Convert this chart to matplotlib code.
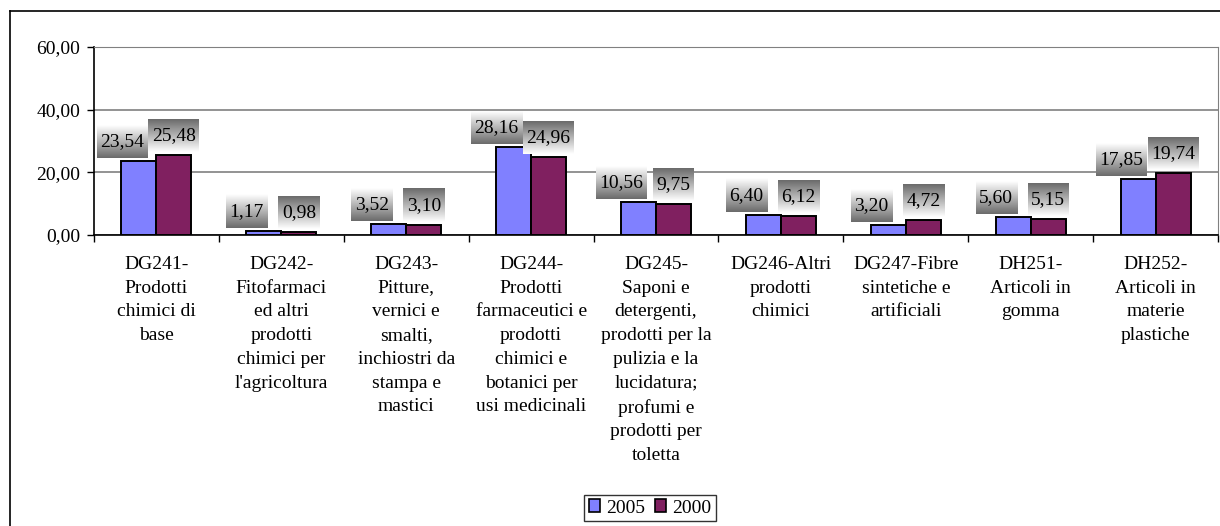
import numpy as np
import matplotlib
matplotlib.use('Agg')
import matplotlib.pyplot as plt
from matplotlib.lines import Line2D
from matplotlib.patches import Patch

plt.rcParams['font.family'] = ['Liberation Serif', 'DejaVu Serif']

categories = [
    "DG241-\nProdotti\nchimici di\nbase",
    "DG242-\nFitofarmaci\ned altri\nprodotti\nchimici per\nl'agricoltura",
    "DG243-\nPitture,\nvernici e\nsmalti,\ninchiostri da\nstampa e\nmastici",
    "DG244-\nProdotti\nfarmaceutici e\nprodotti\nchimici e\nbotanici per\nusi medicinali",
    "DG245-\nSaponi e\ndetergenti,\nprodotti per la\npulizia e la\nlucidatura;\nprofumi e\nprodotti per\ntoletta",
    "DG246-Altri\nprodotti\nchimici",
    "DG247-Fibre\nsintetiche e\nartificiali",
    "DH251-\nArticoli in\ngomma",
    "DH252-\nArticoli in\nmaterie\nplastiche",
]
series_names = ['2005', '2000']
values_2005 = [23.54, 1.17, 3.52, 28.16, 10.56, 6.40, 3.20, 5.60, 17.85]
values_2000 = [25.48, 0.98, 3.10, 24.96, 9.75, 6.12, 4.72, 5.15, 19.74]
yticks = [0, 20, 40, 60]

col_2005 = '#8080FF'
col_2000 = '#802060'
fs = 14

fig = plt.figure(figsize=(12.2, 5.26), dpi=100)
ax = fig.add_axes([94 / 1220, 1 - 235 / 526, 1124 / 1220, 188 / 526])

# outer chart border (cut off at right / bottom like the original)
fig.add_artist(Line2D([10 / 1220, 1.01], [1 - 11 / 526] * 2, color='black', lw=1.2,
                      transform=fig.transFigure))
fig.add_artist(Line2D([10 / 1220] * 2, [-0.01, 1 - 11 / 526], color='black', lw=1.2,
                      transform=fig.transFigure))

x = np.arange(len(categories))
w = 0.28
b1 = ax.bar(x - w / 2, values_2005, w, color=col_2005, edgecolor='black', lw=1.4, zorder=3)
b2 = ax.bar(x + w / 2, values_2000, w, color=col_2000, edgecolor='black', lw=1.4, zorder=3)

ax.set_xlim(-0.5, len(categories) - 0.5)
ax.set_ylim(0, 60)
ax.set_yticks(yticks)
ax.set_yticklabels([f'{v:.2f}'.replace('.', ',') for v in yticks], fontsize=fs)
ax.yaxis.grid(True, color='#808080', lw=1.2, zorder=0)
ax.tick_params(axis='y', length=5, width=1, direction='out', pad=5)

ax.set_xticks(x)
ax.set_xticklabels(categories, fontsize=fs, linespacing=1.52)
ax.tick_params(axis='x', which='major', length=0, pad=15)
ax.set_xticks(np.arange(len(categories) + 1) - 0.5, minor=True)
ax.tick_params(axis='x', which='minor', length=5, width=1, direction='out')

for s in ['left', 'bottom']:
    ax.spines[s].set_color('black')
    ax.spines[s].set_linewidth(1.2)
for s in ['top', 'right']:
    ax.spines[s].set_color('#808080')

# value labels with gradient boxes
fig.canvas.draw()
renderer = fig.canvas.get_renderer()
inv = ax.transData.inverted()


def grad(top_light):
    t = np.linspace(0, 1, 64)[:, None, None]
    dark = np.array([0.42, 0.42, 0.42])
    light = np.array([1.0, 1.0, 1.0])
    if top_light:
        return dark + (light - dark) * t  # origin lower: bottom dark
    return light + (dark - light) * t


for bars, vals, shift, top_light in [(b1, values_2005, -17, True), (b2, values_2000, 0, False)]:
    for bar, v in zip(bars, vals):
        cx, ty = ax.transData.transform((bar.get_x() + bar.get_width() / 2, v))
        cx += shift
        t = ax.text(0, 0, f'{v:.2f}'.replace('.', ','), fontsize=fs, ha='center', va='center',
                    zorder=6, clip_on=False)
        tw = t.get_window_extent(renderer).width
        bw, bh = tw + 7, 33
        x0, y0 = inv.transform((cx - bw / 2, ty + 3))
        x1, y1 = inv.transform((cx + bw / 2, ty + 3 + bh))
        ax.imshow(grad(top_light), extent=[x0, x1, y0, y1], origin='lower', aspect='auto',
                  zorder=5, clip_on=False, interpolation='bilinear')
        t.set_position(((x0 + x1) / 2, (y0 + y1) / 2))

ax.set_xlim(-0.5, len(categories) - 0.5)
ax.set_ylim(0, 60)

handles = [Patch(facecolor=col_2005, edgecolor='black', lw=1.2),
           Patch(facecolor=col_2000, edgecolor='black', lw=1.2)]
leg = fig.legend(handles, series_names, loc='center', bbox_to_anchor=(650 / 1220, 1 - 508 / 526),
                 ncol=2, fontsize=fs, frameon=True, fancybox=False, shadow=False,
                 handlelength=0.6, handleheight=0.6, handletextpad=0.3, columnspacing=0.5,
                 borderpad=0.25, borderaxespad=0)
leg.get_frame().set_edgecolor('black')
leg.get_frame().set_linewidth(1.0)

fig.savefig('out.png', dpi=100)
